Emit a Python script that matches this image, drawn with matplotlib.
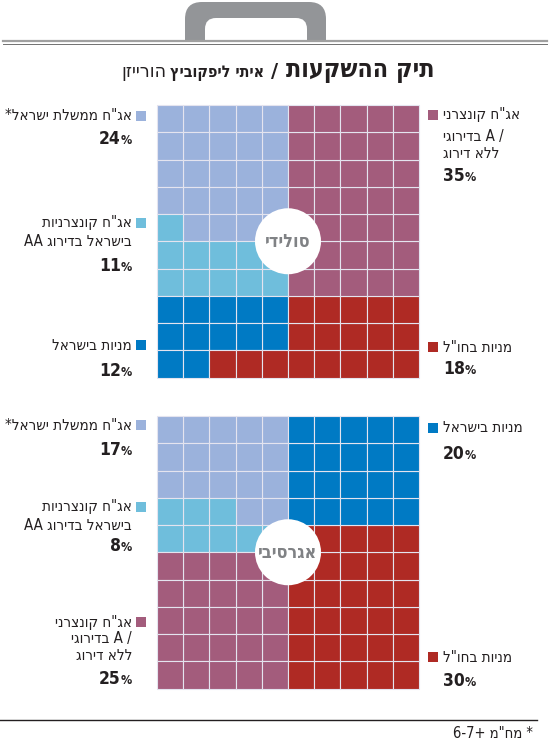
import matplotlib
matplotlib.use('Agg')
import matplotlib.pyplot as plt
from matplotlib.patches import Rectangle, Circle, FancyBboxPatch


def rtl(s):
    # matplotlib draws left to right, so hebrew has to be given in visual order
    return s[::-1]


# data
categories = ['gov', 'corp_aa', 'stocks_il', 'stocks_abroad', 'corp_a']
colors = ['#9bb2dc', '#6fbedc', '#007ac4', '#af2a24', '#a35c7c']
label_lines = [
    [rtl('אג"ח ממשלת ישראל*')],
    [rtl('אג"ח קונצרניות'), 'AA ' + rtl('בישראל בדירוג')],
    [rtl('מניות בישראל')],
    [rtl('מניות בחו"ל')],
    [rtl('אג"ח קונצרני'), rtl('בדירוגי') + ' A /', rtl('ללא דירוג')],
]
solid_values = [24, 11, 12, 18, 35]
aggressive_values = [17, 8, 20, 30, 25]
# order in which the categories are poured into the waffle
solid_fill = [0, 1, 2, 3, 4]
aggressive_fill = [0, 1, 4, 3, 2]
portfolio_names = [rtl('סולידי'), rtl('אגרסיבי')]
title_main = rtl('תיק ההשקעות')
author = rtl('איתי ליפקוביץ')
paper = rtl('הורייזן')
footnote = '6-7+ ' + rtl('מח"מ') + ' *'

FONT = 'DejaVu Sans'
STRETCH = 'condensed'
INK = '#231f20'

fig = plt.figure(figsize=(5.5, 7.47), dpi=100)
ax = fig.add_axes([0, 0, 1, 1])
ax.set_xlim(0, 550)
ax.set_ylim(747, 0)
ax.axis('off')
renderer = fig.canvas.get_renderer()


def width(t):
    return t.get_window_extent(renderer).width


def cell_path():
    # left half top-down (rows right to left, last row left to right),
    # then right half bottom-up
    path = []
    for r in range(10):
        cols = range(5) if r == 9 else range(4, -1, -1)
        for c in cols:
            path.append((r, c))
    for r in range(9, -1, -1):
        for c in range(5, 10):
            path.append((r, c))
    return path


def waffle(y0, values, fill, name):
    x0, cw, ch = 157, 26.2, 27.25
    path = cell_path()
    i = 0
    for k in fill:
        for _ in range(values[k]):
            r, c = path[i]
            ax.add_patch(Rectangle((x0 + c * cw, y0 + r * ch), cw, ch,
                                   facecolor=colors[k], edgecolor='#e4e4ef', lw=0.8))
            i += 1
    cx, cy = x0 + 5 * cw, y0 + 5 * ch
    ax.add_patch(Circle((cx, cy), 33, facecolor='white', edgecolor='none', zorder=5))
    ax.text(cx, cy + 1, name, ha='center', va='center', fontsize=13, color='#808285',
            family=FONT, fontstretch=STRETCH, weight='bold', zorder=6)


def label(k, values, side, ys, ypct):
    if side == 'L':
        tx, mx, ha = 132, 140.5, 'right'
    else:
        tx, mx, ha = 443, 433, 'left'
    ax.add_patch(Rectangle((mx - 5, ys[0] - 5), 10, 10, facecolor=colors[k],
                           edgecolor='none'))
    for line, y in zip(label_lines[k], ys):
        ax.text(tx, y, line, ha=ha, va='center', fontsize=10.8, color=INK,
                family=FONT, fontstretch=STRETCH)
    num = dict(va='baseline', color=INK, family=FONT, fontstretch=STRETCH, weight='bold')
    yb = ypct + 6
    if side == 'L':
        p = ax.text(tx, yb, '%', ha='right', fontsize=9, **num)
        ax.text(tx - width(p), yb, str(values[k]), ha='right', fontsize=12.5, **num)
    else:
        d = ax.text(tx, yb, str(values[k]), ha='left', fontsize=12.5, **num)
        ax.text(tx + width(d), yb, '%', ha='left', fontsize=9, **num)


# briefcase handle
ax.add_patch(FancyBboxPatch((185, 2), 141, 60, boxstyle='round,pad=0,rounding_size=17',
                            facecolor='#939598', edgecolor='none', zorder=1))
ax.add_patch(FancyBboxPatch((205, 18), 102, 60, boxstyle='round,pad=0,rounding_size=11',
                            facecolor='white', edgecolor='none', zorder=2))
ax.add_patch(Rectangle((0, 40), 550, 30, facecolor='white', edgecolor='none', zorder=3))
ax.plot([3, 547], [41, 41], color='#a0a0a0', lw=1.6, zorder=4)
ax.plot([3, 547], [43.6, 43.6], color='#707070', lw=0.7, zorder=4)

# title, chained from the right edge
ty = 77
t = ax.text(435, ty, title_main, ha='right', va='baseline', fontsize=18, weight='heavy',
            family=FONT, fontstretch=STRETCH, color=INK, zorder=5)
x = 435 - width(t) - 8
t = ax.text(x, ty, '/', ha='right', va='baseline', fontsize=14, weight='bold',
            family=FONT, color=INK, zorder=5)
x -= width(t) + 7
t = ax.text(x, ty, author, ha='right', va='baseline', fontsize=11.5, weight='bold',
            family=FONT, fontstretch=STRETCH, color=INK, zorder=5)
x -= width(t) + 4
ax.text(x, ty, paper, ha='right', va='baseline', fontsize=14,
        family=FONT, fontstretch=STRETCH, color=INK, zorder=5)

# solid portfolio
waffle(105, solid_values, solid_fill, portfolio_names[0])
label(0, solid_values, 'L', [116], 138)
label(1, solid_values, 'L', [223, 242], 265)
label(2, solid_values, 'L', [345], 370)
label(4, solid_values, 'R', [115, 136, 153], 175)
label(3, solid_values, 'R', [347], 368)

# aggressive portfolio
waffle(416, aggressive_values, aggressive_fill, portfolio_names[1])
label(0, aggressive_values, 'L', [425], 449)
label(1, aggressive_values, 'L', [507, 525], 545)
label(4, aggressive_values, 'L', [622, 638, 655], 678)
label(2, aggressive_values, 'R', [428], 453)
label(3, aggressive_values, 'R', [657], 680)

# footnote
ax.plot([0, 537], [720, 720], color=INK, lw=1)
ax.text(533, 733, footnote, ha='right', va='center', fontsize=10.5,
        family=FONT, fontstretch=STRETCH, color=INK)

fig.savefig('out.png', dpi=100)
